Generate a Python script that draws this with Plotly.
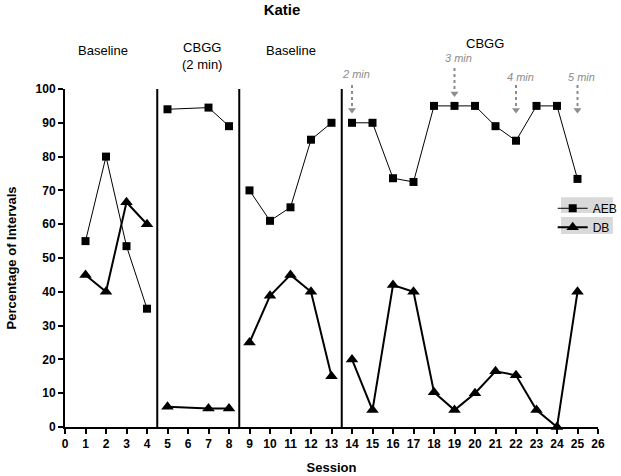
import plotly.graph_objects as go

# ---- data ----
aeb_sessions = [[1, 2, 3, 4], [5, 7, 8], [9, 10, 11, 12, 13],
                [14, 15, 16, 17, 18, 19, 20, 21, 22, 23, 24, 25]]
aeb_values = [[55, 80, 53.5, 35], [94, 94.5, 89], [70, 61, 65, 85, 90],
              [90, 90, 73.6, 72.5, 95, 95, 95, 89, 84.7, 95, 95, 73.4]]
db_sessions = aeb_sessions
db_values = [[45, 40, 66.5, 60], [6, 5.5, 5.5], [25, 38.8, 45, 40, 15],
             [20, 5, 42, 40, 10.3, 5, 10, 16.5, 15.3, 5, 0, 40]]
phase_lines = [4.5, 8.5, 13.5]
phase_labels = ["Baseline", "CBGG<br>(2 min)", "Baseline", "CBGG"]
phase_label_x = [1.85, 6.7, 11.0, 20.5]
phase_label_y = [111.5, 109.8, 111.5, 113.6]
step_sessions = [14, 19, 22, 25]
step_labels = ["2 min", "3 min", "4 min", "5 min"]
x_ticks = list(range(0, 27))
y_ticks = list(range(0, 101, 10))

XMIN, XMAX = 0, 26
YMIN, YMAX = 0, 100
FONT = "Liberation Sans, Arial, sans-serif"
GRAY = "#8c8c8c"


def join(groups):
    out = []
    for i, g in enumerate(groups):
        if i:
            out.append(None)
        out.extend(g)
    return out


def ypaper(v):
    return (v - YMIN) / (YMAX - YMIN)


def xpaper(v):
    return (v - XMIN) / (XMAX - XMIN)


fig = go.Figure()
fig.add_trace(go.Scatter(
    x=join(aeb_sessions), y=join(aeb_values), name="AEB",
    mode="lines+markers", connectgaps=False, cliponaxis=False,
    line=dict(color="black", width=1),
    marker=dict(symbol="square", size=8, color="black")))
fig.add_trace(go.Scatter(
    x=join(db_sessions), y=join(db_values), name="DB",
    mode="lines+markers", connectgaps=False, cliponaxis=False,
    line=dict(color="black", width=2),
    marker=dict(symbol="triangle-up", size=11, color="black")))

shapes = []
for p in phase_lines:
    shapes.append(dict(type="line", xref="x", yref="y", x0=p, x1=p, y0=0, y1=100,
                       line=dict(color="black", width=2)))

# step-change arrows (dotted line + head)
arrow_top = [101.2, 106.2, 101.2, 101.2]
arrow_tip = [92.6, 97.5, 92.6, 92.6]
label_y = [104.4, 109.3, 103.6, 103.6]
head_x, head_y = [], []
annotations = []
for s, lab, t, b, ly in zip(step_sessions, step_labels, arrow_top, arrow_tip, label_y):
    xp = xpaper(s)
    shapes.append(dict(type="line", xref="paper", yref="paper", x0=xp, x1=xp,
                       y0=ypaper(t), y1=ypaper(b + 2.2),
                       line=dict(color=GRAY, width=2, dash="dot")))
    head_x.append(s)
    head_y.append(b + 1.2)
    annotations.append(dict(x=s + 0.2, y=ypaper(ly), xref="x", yref="paper",
                            text="<i>" + lab + "</i>", showarrow=False,
                            font=dict(family=FONT, size=11, color=GRAY),
                            xanchor="center", yanchor="middle"))

fig.add_trace(go.Scatter(x=head_x, y=head_y, mode="markers", showlegend=False,
                         cliponaxis=False, hoverinfo="skip",
                         marker=dict(symbol="triangle-down", size=7, color=GRAY)))

for lab, x, y in zip(phase_labels, phase_label_x, phase_label_y):
    annotations.append(dict(x=x, y=ypaper(y), xref="x", yref="paper", text=lab, showarrow=False,
                            font=dict(family=FONT, size=13, color="black"),
                            xanchor="center", yanchor="middle"))

# legend backgrounds
shapes.append(dict(type="rect", xref="paper", yref="paper", x0=0.9306, x1=1.028,
                   y0=0.633, y1=0.680, fillcolor="#d9d9d9", line=dict(width=0), layer="below"))
shapes.append(dict(type="rect", xref="paper", yref="paper", x0=0.9306, x1=1.028,
                   y0=0.571, y1=0.621, fillcolor="#d9d9d9", line=dict(width=0), layer="below"))

fig.update_layout(
    width=621, height=476,
    margin=dict(l=65, r=23, t=89, b=49, autoexpand=False),
    paper_bgcolor="white", plot_bgcolor="white",
    font=dict(family=FONT, color="black"),
    title=dict(text="<b>Katie</b>", x=282 / 621, xanchor="center", xref="container",
               y=1 - 10 / 476, yanchor="middle", yref="container",
               font=dict(family=FONT, size=15, color="black")),
    shapes=shapes, annotations=annotations,
    legend=dict(x=0.915, y=0.69, xanchor="left", yanchor="top",
                bgcolor="rgba(0,0,0,0)", font=dict(family=FONT, size=12),
                tracegroupgap=0, itemsizing="trace"),
    showlegend=True,
)
fig.update_xaxes(range=[XMIN, XMAX], tickvals=x_ticks,
                 ticktext=["<b>%d</b>" % v for v in x_ticks],
                 showgrid=False, zeroline=False, showline=True, linecolor="black", linewidth=2,
                 ticks="outside", ticklen=5, tickwidth=2, tickcolor="black",
                 tickfont=dict(family=FONT, size=12, color="black"), automargin=False,
                 title=dict(text="<b>Session</b>", font=dict(family=FONT, size=13), standoff=12))
fig.update_yaxes(range=[YMIN, YMAX], tickvals=y_ticks,
                 ticktext=["<b>%d</b>" % v for v in y_ticks],
                 showgrid=False, zeroline=False, showline=True, linecolor="black", linewidth=2,
                 ticks="outside", ticklen=5, tickwidth=2, tickcolor="black",
                 tickfont=dict(family=FONT, size=12, color="black"), automargin=False,
                 title=dict(text="<b>Percentage of Intervals</b>", font=dict(family=FONT, size=13),
                            standoff=16))

fig.write_html("out.html", config={"displayModeBar": False},
               post_script="document.body.style.margin='0';document.body.style.padding='0';")
